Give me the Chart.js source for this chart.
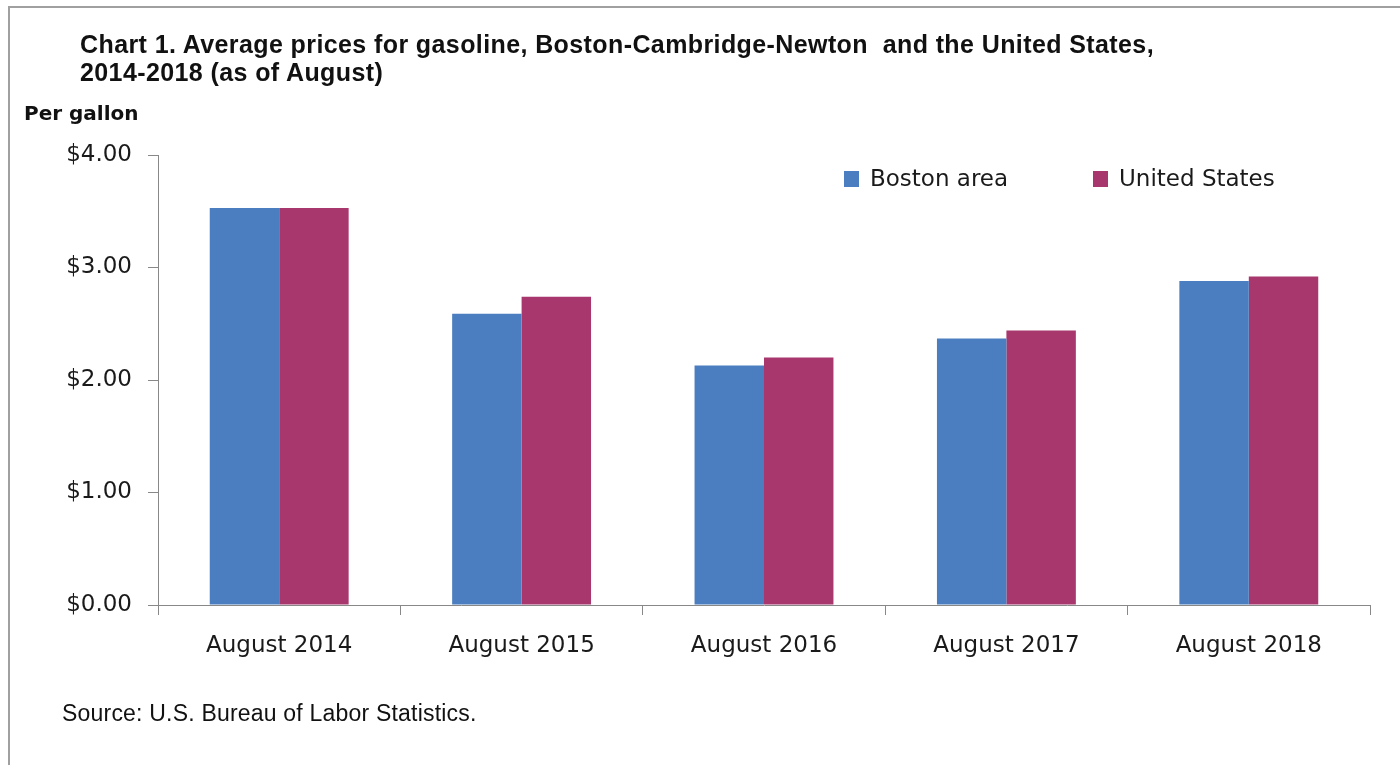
<!DOCTYPE html>
<html>
<head>
<meta charset="utf-8">
<script src="https://cdn.jsdelivr.net/npm/chart.js@4"></script>
<style>
  html, body { margin: 0; padding: 0; background: #fff; }
  #wrap { position: relative; width: 1400px; height: 765px; overflow: hidden; background: #fff; }
  #frame { position: absolute; left: 8px; top: 6px; width: 1420px; height: 800px; border-left: 2px solid #a0a0a0; border-top: 2px solid #a0a0a0; box-sizing: border-box; }
  canvas { position: absolute; left: 0; top: 0; }
  .title { position: absolute; left: 80px; font-family: "Liberation Sans", Arial, sans-serif; font-weight: bold; font-size: 25px; color: #111; white-space: pre; letter-spacing: 0.4px; }
  #ylab { position: absolute; left: 24px; top: 101px; font-family: "DejaVu Sans", sans-serif; font-weight: bold; font-size: 20px; color: #111; }
  #src { position: absolute; left: 62px; top: 700px; font-family: "Liberation Sans", Arial, sans-serif; font-size: 23px; color: #111; letter-spacing: 0.2px; }
</style>
</head>
<body>
<div id="wrap">
  <canvas id="c" width="1400" height="765"></canvas>
  <div id="frame"></div>
  <div class="title" style="top:30px">Chart 1. Average prices for gasoline, Boston-Cambridge-Newton  and the United States,</div>
  <div class="title" style="top:58px">2014-2018 (as of August)</div>
  <div id="ylab">Per gallon</div>
  <div id="src">Source: U.S. Bureau of Labor Statistics.</div>
</div>
<script>
const categories = ["August 2014", "August 2015", "August 2016", "August 2017", "August 2018"];
const seriesNames = ["Boston area", "United States"];
const bostonValues = [3.53, 2.59, 2.13, 2.37, 2.88];
const usValues = [3.53, 2.74, 2.20, 2.44, 2.92];
const yTickValues = [0, 1, 2, 3, 4];

const tickFont = { family: "DejaVu Sans", size: 23 };

const legendPlugin = {
  id: 'customLegend',
  afterDraw(chart) {
    const ctx = chart.ctx;
    const starts = [844, 1093];
    ctx.save();
    ctx.font = '23px "DejaVu Sans"';
    ctx.textBaseline = 'middle';
    chart.data.datasets.forEach((ds, i) => {
      const x = starts[i];
      ctx.fillStyle = ds.backgroundColor;
      ctx.fillRect(x, 171, 15, 16);
      ctx.fillStyle = '#1a1a1a';
      ctx.fillText(ds.label, x + 26, 180);
    });
    ctx.restore();
  }
};

new Chart(document.getElementById('c'), {
  type: 'bar',
  data: {
    labels: categories,
    datasets: [
      { label: seriesNames[0], data: bostonValues, backgroundColor: '#4a7ec0', borderWidth: 0, categoryPercentage: 0.573, barPercentage: 1.0 },
      { label: seriesNames[1], data: usValues, backgroundColor: '#a8376e', borderWidth: 0, categoryPercentage: 0.573, barPercentage: 1.0 }
    ]
  },
  options: {
    responsive: false,
    animation: false,
    layout: { padding: { left: 0, right: 30, top: 155, bottom: 0 } },
    plugins: { legend: { display: false }, title: { display: false }, tooltip: { enabled: false } },
    scales: {
      x: {
        grid: { display: true, drawOnChartArea: false, drawTicks: true, tickLength: 10, color: '#888', offset: true },
        border: { display: true, color: '#888', width: 1 },
        ticks: { font: tickFont, color: '#1a1a1a', padding: 17, maxRotation: 0 },
        afterFit(scale) { scale.height = 160; }
      },
      y: {
        min: 0, max: 4,
        afterBuildTicks(scale) { scale.ticks = yTickValues.map(v => ({ value: v })); },
        grid: { display: true, drawOnChartArea: false, drawTicks: true, tickLength: 10, color: '#888' },
        border: { display: true, color: '#888', width: 1 },
        ticks: { font: tickFont, color: '#1a1a1a', padding: 16, callback: v => '$' + Number(v).toFixed(2) },
        afterFit(scale) { scale.width = 158; }
      }
    }
  },
  plugins: [legendPlugin]
});
</script>
</body>
</html>
